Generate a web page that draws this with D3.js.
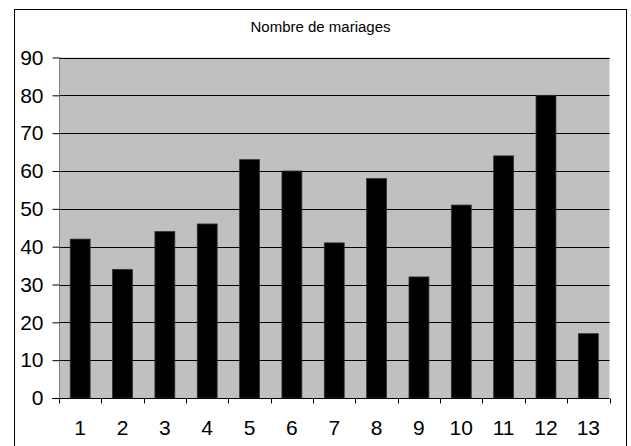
<!DOCTYPE html>
<html>
<head>
<meta charset="utf-8">
<script src="https://cdn.jsdelivr.net/npm/d3@7"></script>
<style>
  html, body { margin: 0; padding: 0; background: #fff; }
  svg { display: block; }
  text { font-family: "Liberation Sans", Arial, sans-serif; fill: #000; }
</style>
</head>
<body>
<svg id="chart" width="631" height="446"></svg>
<script>
// Number of marriages per category
const categories = ["1","2","3","4","5","6","7","8","9","10","11","12","13"];
const mariages = [42, 34, 44, 46, 63, 60, 41, 58, 32, 51, 64, 80, 17];
const yTicks = [0, 10, 20, 30, 40, 50, 60, 70, 80, 90];
const title = "Nombre de mariages";

const svg = d3.select("#chart");
const plot = { left: 59, right: 609.5, top: 57.5, bottom: 398 };

// outer frame (bottom edge runs past the window)
svg.append("rect")
  .attr("x", 14.5).attr("y", 9.5)
  .attr("width", 612).attr("height", 460)
  .attr("fill", "#fff").attr("stroke", "#000").attr("stroke-width", 1);

svg.append("text")
  .attr("x", (14.5 + 626.5) / 2).attr("y", 32)
  .attr("text-anchor", "middle")
  .attr("font-size", 14)
  .attr("textLength", 140)
  .attr("lengthAdjust", "spacingAndGlyphs")
  .text(title);

const x = d3.scaleBand()
  .domain(categories)
  .range([plot.left, plot.right])
  .paddingInner(0.53)
  .paddingOuter(0.265);

const y = d3.scaleLinear()
  .domain([0, 90])
  .range([plot.bottom, plot.top]);

// plot background
svg.append("rect")
  .attr("x", plot.left).attr("y", plot.top)
  .attr("width", plot.right - plot.left).attr("height", plot.bottom - plot.top)
  .attr("fill", "#c0c0c0");

// horizontal gridlines
svg.append("g")
  .selectAll("line")
  .data(yTicks.filter(d => d > 0))
  .join("line")
  .attr("x1", plot.left).attr("x2", plot.right)
  .attr("y1", d => Math.round(y(d)) + 0.5).attr("y2", d => Math.round(y(d)) + 0.5)
  .attr("stroke", "#000").attr("stroke-width", 1);

// bars
svg.append("g")
  .selectAll("rect")
  .data(mariages)
  .join("rect")
  .attr("x", (d, i) => x(categories[i]))
  .attr("y", d => y(d))
  .attr("width", x.bandwidth())
  .attr("height", d => y(0) - y(d))
  .attr("fill", "#000")
  .attr("stroke", "#333").attr("stroke-width", 0.8);

// left axis
const yAxis = svg.append("g")
  .attr("transform", `translate(${plot.left + 0.5},0)`)
  .call(d3.axisLeft(y).tickValues(yTicks).tickSize(7).tickPadding(9).tickFormat(d3.format("d")));
yAxis.select(".domain").attr("stroke", "#808080").attr("d", `M0,${plot.top}V${plot.bottom}`);
yAxis.selectAll(".tick line").attr("stroke", "#000");
yAxis.selectAll(".tick text")
  .attr("font-size", 21)
  .attr("font-family", "Liberation Sans, Arial, sans-serif")
  .attr("fill", "#000");

// bottom axis with tick marks between categories
const xAxis = svg.append("g")
  .attr("transform", `translate(0,${plot.bottom + 0.5})`);
xAxis.append("line")
  .attr("x1", plot.left - 7).attr("x2", plot.right)
  .attr("stroke", "#000");
const boundaries = d3.range(categories.length + 1)
  .map(i => plot.left + i * (plot.right - plot.left) / categories.length);
xAxis.selectAll("line.tk")
  .data(boundaries)
  .join("line")
  .attr("class", "tk")
  .attr("x1", d => Math.round(d) + 0.5).attr("x2", d => Math.round(d) + 0.5)
  .attr("y1", 0).attr("y2", 5)
  .attr("stroke", "#000");
xAxis.selectAll("text")
  .data(categories)
  .join("text")
  .attr("x", d => x(d) + x.bandwidth() / 2)
  .attr("y", 36.5)
  .attr("text-anchor", "middle")
  .attr("font-size", 21)
  .text(d => d);
</script>
</body>
</html>
